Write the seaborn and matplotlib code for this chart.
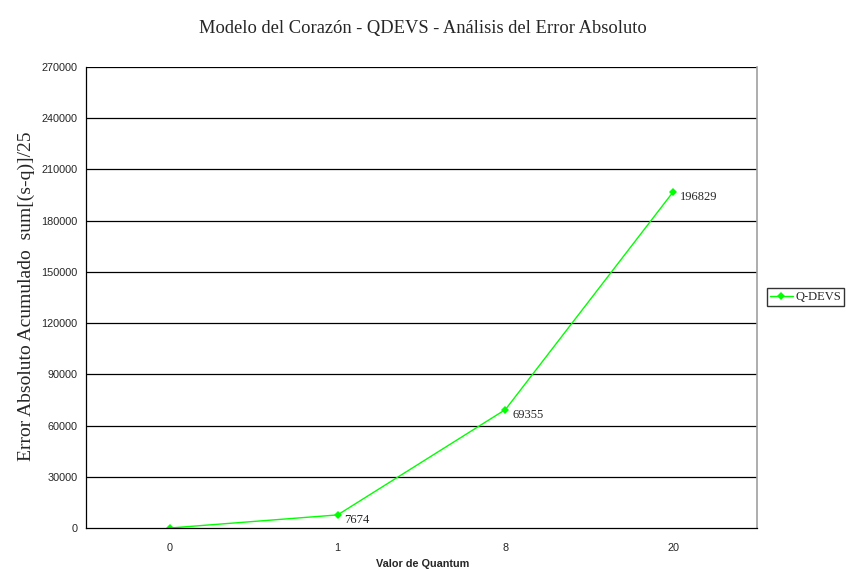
import matplotlib
matplotlib.use("Agg")
import matplotlib.pyplot as plt
import seaborn as sns
import pandas as pd
import numpy as np

quantum = ["0", "1", "8", "20"]
error_abs = [0, 7674, 69355, 196829]
series_name = "Q-DEVS"
y_ticks = list(range(0, 270001, 30000))

sns.set_style("white")
plt.rcParams["font.family"] = ["Liberation Serif", "DejaVu Serif"]

df = pd.DataFrame({"Quantum": quantum, "Error": error_abs, "Serie": series_name})

fig = plt.figure(figsize=(8.46, 5.71), dpi=100)
ax = fig.add_axes([86 / 846, 1 - 528 / 571, (757 - 86) / 846, (528 - 67) / 571])

sns.lineplot(data=df, x="Quantum", y="Error", hue="Serie", palette=["#00ff00"],
             marker="D", markersize=4, markeredgewidth=0, linewidth=1.0,
             sort=False, ax=ax)

ax.set_xlim(-0.5, len(quantum) - 0.5)
ax.set_ylim(0, 270000)
ax.set_yticks(y_ticks)
ax.set_yticklabels([str(v) for v in y_ticks], family="Liberation Sans", fontsize=7.8)
ax.set_xticks(range(len(quantum)))
ax.set_xticklabels(quantum, family="Liberation Sans", fontsize=7.8)
ax.set_xticks(np.arange(-0.5, len(quantum)), minor=True)
ax.tick_params(axis="x", which="major", length=0, pad=10.5)
ax.tick_params(axis="x", which="minor", length=3, width=0.8, color="black", direction="out")
ax.tick_params(axis="y", which="major", length=3, width=0.8, color="black", direction="out", pad=3)

for v in y_ticks[1:]:
    ax.axhline(v, color="black", linewidth=0.9, zorder=0)

for s in ["left", "bottom"]:
    ax.spines[s].set_color("black")
    ax.spines[s].set_linewidth(0.9)
ax.spines["top"].set_visible(False)
ax.spines["right"].set_color("#a0a0a0")
ax.spines["right"].set_linewidth(1.2)

for i, v in enumerate(error_abs[1:], start=1):
    ax.annotate(str(v), (i, v), xytext=(5, -4), textcoords="offset points",
                fontsize=9, va="center", ha="left")

ax.set_xlabel("Valor de Quantum", family="Liberation Sans", fontsize=7.8,
              fontweight="bold")
ax.set_ylabel("Error Absoluto Acumulado  sum[(s-q)]/25", fontsize=14)
ax.yaxis.set_label_coords(35 / 846, 1 - 296 / 571, transform=fig.transFigure)
ax.xaxis.set_label_coords(0.5, 1 - 559 / 571, transform=fig.transFigure)

fig.suptitle("Modelo del Corazón - QDEVS - Análisis del Error Absoluto",
             y=1 - 28 / 571, va="center", fontsize=13.3)

leg = ax.legend(loc="center left", bbox_to_anchor=(767 / 846, 1 - 297 / 571),
                bbox_transform=fig.transFigure, frameon=True, fancybox=False,
                shadow=False, fontsize=9,
                handlelength=1.8, handletextpad=0.2,
                borderpad=0.25, borderaxespad=0)
leg.get_frame().set_edgecolor("black")
leg.get_frame().set_linewidth(1.0)

fig.savefig("out.png", dpi=100)
